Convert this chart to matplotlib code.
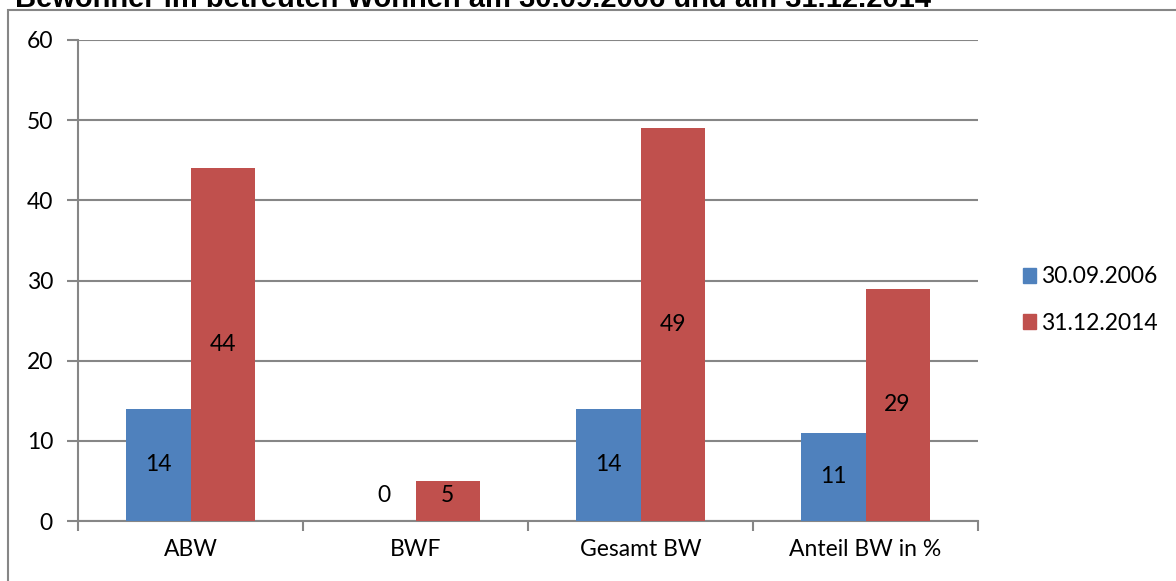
import matplotlib.pyplot as plt
import matplotlib.patches as mpatches
import numpy as np

plt.rcParams['font.family'] = ['Lato', 'DejaVu Sans']

# data
categories = ["ABW", "BWF", "Gesamt BW", "Anteil BW in %"]
series_names = ["30.09.2006", "31.12.2014"]
vals_2006 = [14, 0, 14, 11]
vals_2014 = [44, 5, 49, 29]
colors = ["#4F81BD", "#C0504D"]
grey = "#868686"

W, H = 1176, 581
fig = plt.figure(figsize=(W / 100, H / 100), dpi=100)

# outer chart frame (cut off at right / bottom like the screenshot)
frame = mpatches.Rectangle((8 / W, -0.05), 1.2, 1 - 10 / H + 0.05,
                           transform=fig.transFigure, fill=False,
                           edgecolor=grey, linewidth=1.5)
fig.patches.append(frame)

# title, mostly clipped at the top as in the screenshot
fig.text(15 / W, 1 - 7 / H, "Bewohner im betreuten Wohnen am 30.09.2006 und am 31.12.2014",
         fontsize=21, fontweight='bold', family='Liberation Sans',
         va='baseline', ha='left')

ax = fig.add_axes([78 / W, (H - 521) / H, 900 / W, 481 / H])

x = np.arange(len(categories))
bw = 0.285
for i, (vals, name) in enumerate(zip([vals_2006, vals_2014], series_names)):
    pos = x + (i - 0.5) * bw
    ax.bar(pos, vals, width=bw, color=colors[i], label=name, zorder=3)
    for p, v in zip(pos, vals):
        ax.text(p, max(v / 2, 3.2), str(v), ha='center', va='center',
                fontsize=16.5, zorder=4)

ax.set_xlim(-0.5, len(categories) - 0.5)
ax.set_ylim(0, 60)
ax.set_yticks(np.arange(0, 61, 10))
ax.yaxis.grid(True, color=grey, linewidth=1.5, zorder=0)
ax.set_axisbelow(True)

ax.set_xticks(np.arange(-0.5, len(categories), 1))
ax.set_xticklabels([])
ax.set_xticks(x, minor=True)
ax.set_xticklabels(categories, minor=True)
ax.tick_params(axis='x', which='major', length=7, width=1.5, color=grey)
ax.tick_params(axis='x', which='minor', length=0, pad=13, labelsize=16.5)
ax.tick_params(axis='y', length=8, width=1.5, color=grey, pad=10, labelsize=16.5)

for s in ['top', 'right']:
    ax.spines[s].set_visible(False)
for s in ['left', 'bottom']:
    ax.spines[s].set_color(grey)
    ax.spines[s].set_linewidth(1.5)

handles = [mpatches.Patch(color=c) for c in colors]
fig.legend(handles, series_names, loc='center left',
           bbox_to_anchor=(1002 / W, 1 - 300 / H), frameon=False,
           fontsize=16.5, handlelength=0.6, handleheight=0.6,
           handletextpad=0.2, labelspacing=1.1)

fig.savefig("out.png", dpi=100)
